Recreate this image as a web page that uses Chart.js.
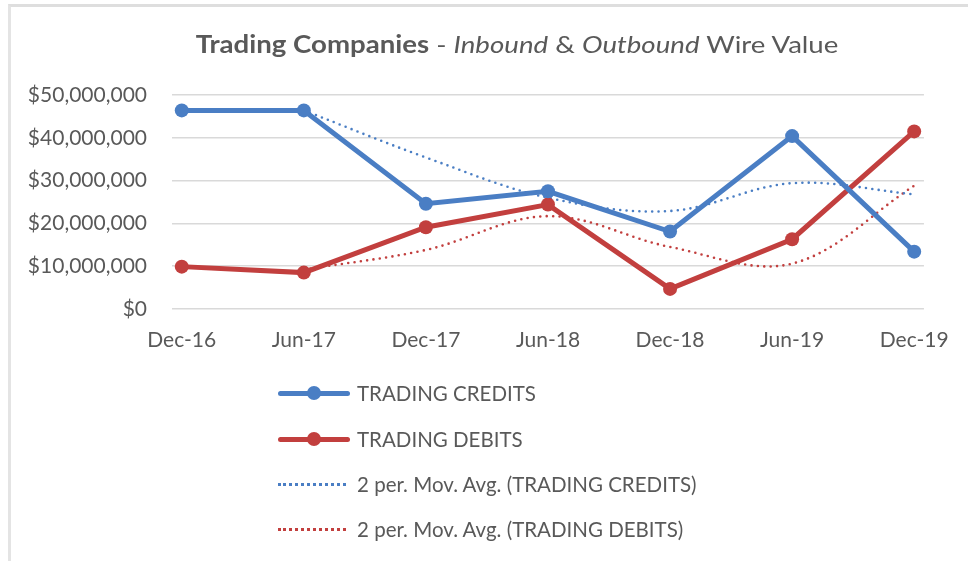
<!DOCTYPE html>
<html>
<head>
<meta charset="utf-8">
<script src="https://cdn.jsdelivr.net/npm/chart.js@4"></script>
<style>
  html, body { margin: 0; padding: 0; background: #fff; }
  #wrap { position: relative; width: 968px; height: 561px; overflow: hidden; font-family: Lato, "Open Sans", sans-serif; color: #595959; }
  #frame { position: absolute; left: 8px; top: 4px; width: 980px; height: 600px; border-top: 3px solid #dedede; border-left: 3px solid #e4e4e4; box-sizing: border-box; }
  #c { position: absolute; left: 0; top: 0; }
  #title { position: absolute; left: 0; width: 1034px; top: 29px; text-align: center; font-size: 24px; line-height: 30px; white-space: nowrap; transform: scaleX(1.15); transform-origin: 517px 50%; }
  #title b { font-weight: 700; }
  #legend { position: absolute; left: 278px; top: 0; }
  .row { position: absolute; left: 0; width: 600px; height: 30px; display: flex; align-items: center; font-size: 20.5px; white-space: nowrap; }
  .key { position: relative; width: 72px; height: 30px; margin-right: 7px; flex: none; }
  .solid { position: absolute; left: 0; right: 0; top: 12.5px; height: 5px; border-radius: 3px; }
  .dot { position: absolute; left: 29px; top: 8px; width: 14px; height: 14px; border-radius: 50%; }
  .dotted { position: absolute; left: 0; width: 68px; top: 14px; height: 0; border-top: 3px dotted; }
</style>
</head>
<body>
<div id="wrap">
  <div id="frame"></div>
  <canvas id="c" width="968" height="561"></canvas>
  <div id="title"><b>Trading Companies</b> - <i>Inbound</i> &amp; <i>Outbound</i> Wire Value</div>
  <div id="legend"></div>
</div>
<script>
// ---- data ----
const categories = ['Dec-16', 'Jun-17', 'Dec-17', 'Jun-18', 'Dec-18', 'Jun-19', 'Dec-19'];
const tradingCredits = [46400000, 46400000, 24600000, 27500000, 18100000, 40400000, 13400000];
const tradingDebits  = [9900000, 8500000, 19100000, 24400000, 4700000, 16300000, 41500000];
const movAvgCredits  = [null, 46400000, 35400000, 26000000, 22900000, 29400000, 26800000];
const movAvgDebits   = [null, 9200000, 13800000, 21700000, 14500000, 10600000, 28800000];
const yTicks = [0, 10000000, 20000000, 30000000, 40000000, 50000000];
const seriesNames = ['TRADING CREDITS', 'TRADING DEBITS', '2 per. Mov. Avg. (TRADING CREDITS)', '2 per. Mov. Avg. (TRADING DEBITS)'];

const BLUE = '#4a7ec4';
const RED = '#c23f3e';
const toPts = arr => arr.map((v, i) => ({ x: i, y: v }));

const ctx = document.getElementById('c').getContext('2d');
new Chart(ctx, {
  type: 'line',
  data: {
    datasets: [
      { label: seriesNames[0], data: toPts(tradingCredits), borderColor: BLUE, backgroundColor: BLUE,
        borderWidth: 5, pointRadius: 7, pointBorderWidth: 0, tension: 0, order: 0 },
      { label: seriesNames[1], data: toPts(tradingDebits), borderColor: RED, backgroundColor: RED,
        borderWidth: 5, pointRadius: 7, pointBorderWidth: 0, tension: 0, order: 1 },
      { label: seriesNames[2], data: toPts(movAvgCredits), borderColor: BLUE, borderWidth: 2.6,
        borderDash: [0, 6.4], borderCapStyle: 'round', pointRadius: 0, tension: 0.35, order: 2 },
      { label: seriesNames[3], data: toPts(movAvgDebits), borderColor: RED, borderWidth: 2.6,
        borderDash: [0, 6.4], borderCapStyle: 'round', pointRadius: 0, tension: 0.35, order: 3 }
    ]
  },
  options: {
    responsive: false,
    animation: false,
    devicePixelRatio: 1,
    layout: { padding: { left: 0, top: 95, right: 27, bottom: 212 } },
    plugins: { legend: { display: false }, title: { display: false }, tooltip: { enabled: false } },
    scales: {
      x: {
        type: 'linear', min: -0.08, max: 6.08,
        afterBuildTicks: s => { s.ticks = categories.map((_, i) => ({ value: i })); },
        afterFit: s => { s.height = 40; },
        grid: { display: false, drawTicks: false },
        border: { display: false },
        ticks: { padding: 19, autoSkip: false, maxRotation: 0, color: '#595959',
          font: { family: 'Lato', size: 21 }, callback: v => categories[v] }
      },
      y: {
        min: 0, max: 50000000,
        afterBuildTicks: s => { s.ticks = yTicks.map(v => ({ value: v })); },
        afterFit: s => { s.width = 172; },
        grid: { color: '#d9d9d9', lineWidth: 1.5, drawTicks: false },
        border: { display: false },
        ticks: { padding: 25, color: '#595959', font: { family: 'Lato', size: 21 },
          callback: v => '$' + Number(v).toLocaleString('en-US') }
      }
    }
  }
});

// HTML legend (vertical, below the plot)
const legendRows = [
  { name: seriesNames[0], color: BLUE, type: 'solid', y: 393 },
  { name: seriesNames[1], color: RED, type: 'solid', y: 439 },
  { name: seriesNames[2], color: BLUE, type: 'dotted', y: 484 },
  { name: seriesNames[3], color: RED, type: 'dotted', y: 529 }
];
const leg = document.getElementById('legend');
legendRows.forEach(r => {
  const row = document.createElement('div');
  row.className = 'row';
  row.style.top = (r.y - 15) + 'px';
  const key = document.createElement('div');
  key.className = 'key';
  if (r.type === 'solid') {
    key.innerHTML = '<div class="solid" style="background:' + r.color + '"></div><div class="dot" style="background:' + r.color + '"></div>';
  } else {
    key.innerHTML = '<div class="dotted" style="border-top-color:' + r.color + '"></div>';
  }
  const label = document.createElement('span');
  label.textContent = r.name;
  row.appendChild(key);
  row.appendChild(label);
  leg.appendChild(row);
});
</script>
</body>
</html>
